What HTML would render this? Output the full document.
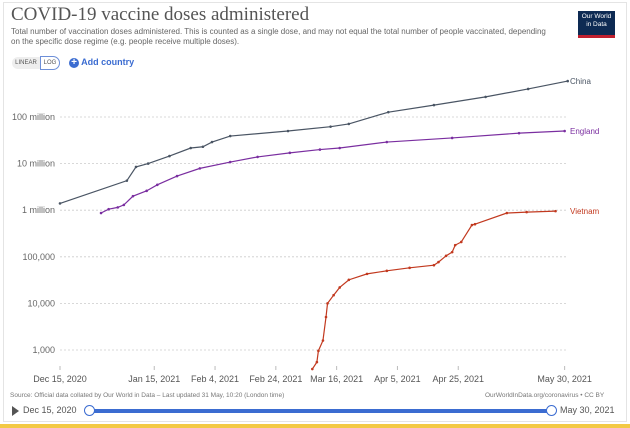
<!DOCTYPE html>
<html><head><meta charset="utf-8"><style>
body{margin:0;width:630px;height:428px;background:#fff;font-family:"Liberation Sans",sans-serif;overflow:hidden;position:relative}
.t{position:absolute;white-space:nowrap}
</style></head><body>
<div style="position:absolute;left:3px;top:2px;width:622px;height:418px;border:1px solid #e4e4e4"></div>
<div class="t" style="left:11px;top:4px;font-family:'Liberation Serif',serif;font-size:19px;color:#555">COVID-19 vaccine doses administered</div>
<div class="t" style="left:11px;top:27px;font-size:8px;line-height:10px;color:#666;white-space:normal;width:540px">Total number of vaccination doses administered. This is counted as a single dose, and may not equal the total number of people vaccinated, depending on the specific dose regime (e.g. people receive multiple doses).</div>
<div style="position:absolute;left:578px;top:11px;width:37px;height:22px;background:#0d2a53;border-bottom:3px solid #c0202f;color:#fff;font-size:6.5px;line-height:8px;text-align:center;padding-top:2px">Our World<br>in Data</div>
<div class="t" style="left:12px;top:57px;width:28px;height:12px;border-radius:7px 0 0 7px;background:#eee;font-size:6px;color:#555;text-align:center;line-height:12px">LINEAR</div>
<div class="t" style="left:40px;top:56px;width:18px;height:12px;border:1px solid #6d8fd8;border-radius:0 7px 7px 0;font-size:6px;color:#555;text-align:center;line-height:12px">LOG</div>
<div class="t" style="left:69px;top:57px;font-size:9px;color:#3b6cd1;font-weight:bold"><span style="display:inline-block;width:10px;height:10px;border-radius:50%;background:#3b6cd1;color:#fff;text-align:center;line-height:10px;font-size:10px">+</span> Add country</div>
<svg id="ch" width="630" height="428" style="position:absolute;left:0;top:0"></svg>
<div class="t" style="left:10px;top:392px;font-size:6.5px;color:#777">Source: Official data collated by Our World in Data – Last updated 31 May, 10:20 (London time)</div>
<div class="t" style="left:485px;top:392px;font-size:6.5px;color:#777">OurWorldInData.org/coronavirus • CC BY</div>
<div style="position:absolute;left:12px;top:406px;width:0;height:0;border-left:7px solid #555;border-top:5px solid transparent;border-bottom:5px solid transparent"></div>
<div class="t" style="left:23px;top:405px;font-size:9px;color:#555">Dec 15, 2020</div>
<div style="position:absolute;left:90px;top:409px;width:462px;height:4px;background:#3b6cd1"></div>
<div style="position:absolute;left:84px;top:405px;width:9px;height:9px;border:1px solid #3b6cd1;border-radius:50%;background:#fff"></div>
<div style="position:absolute;left:546px;top:405px;width:9px;height:9px;border:1px solid #3b6cd1;border-radius:50%;background:#fff"></div>
<div class="t" style="left:560px;top:405px;font-size:9px;color:#555">May 30, 2021</div>
<div style="position:absolute;left:0;top:424px;width:630px;height:4px;background:#f3c944"></div>
<script>
const yTicks=[8,7,6,5,4,3];
const yTickLabels=["100 million","10 million","1 million","100,000","10,000","1,000"];
const xTickDays=[0,31,51,71,91,111,131,166];
const xTickLabels=["Dec 15, 2020","Jan 15, 2021","Feb 4, 2021","Feb 24, 2021","Mar 16, 2021","Apr 5, 2021","Apr 25, 2021","May 30, 2021"];
const chinaDays=[0,22,25,29,36,43,47,50,56,75,89,95,108,123,140,154,167];
const chinaVals=[1.4e6,4.3e6,8.5e6,1e7,1.45e7,2.16e7,2.3e7,2.9e7,3.9e7,5e7,6.2e7,7.1e7,1.27e8,1.8e8,2.7e8,4e8,5.9e8];
const englandDays=[13.5,16,19,21,24,28.5,32,38.5,46,56,65,75.6,85.5,92,107.5,129,151,166];
const englandVals=[8.7e5,1.05e6,1.15e6,1.3e6,2e6,2.6e6,3.5e6,5.4e6,7.9e6,1.08e7,1.39e7,1.7e7,2e7,2.16e7,2.9e7,3.55e7,4.5e7,5e7];
const vietDays=[83,84.5,85,86.5,87.5,88,90,92,95,101,107.5,115,123,124.5,127,129,130,132,135.5,136.5,147,153.5,163];
const vietVals=[390,550,960,1600,5100,1e4,1.5e4,2.2e4,3.2e4,4.3e4,5e4,5.8e4,6.6e4,7.7e4,1.05e5,1.26e5,1.78e5,2.08e5,4.8e5,5e5,8.7e5,9.1e5,9.55e5];
const svg=document.getElementById('ch');const NS='http://www.w3.org/2000/svg';
const X=d=>60+d*3.04, Y=v=>117-(Math.log10(v)-8)*46.6;
function mk(t,a){const e=document.createElementNS(NS,t);for(const k in a)e.setAttribute(k,a[k]);svg.appendChild(e);return e;}
yTicks.forEach((p,i)=>{const y=Y(Math.pow(10,p));
 const g=mk('line',{x1:60,x2:566,y1:y,y2:y,stroke:'#ccc','stroke-dasharray':'2,2','stroke-width':0.8});
 
 const t=mk('text',{x:55,y:y+3,'text-anchor':'end','font-size':9,fill:'#666','font-family':'Liberation Sans'});t.textContent=yTickLabels[i];
 });
xTickDays.forEach((d,i)=>{const x=X(d);
 const tk=mk('line',{x1:x,x2:x,y1:366,y2:370,stroke:'#bbb'});
 
 const t=mk('text',{x:x,y:382,'text-anchor':'middle','font-size':9,fill:'#555','font-family':'Liberation Sans'});t.textContent=xTickLabels[i];
 });
function series(days,vals,col,name,label){
 const pts=days.map((d,i)=>X(d)+','+Y(vals[i])).join(' ');
 const l=mk('polyline',{points:pts,fill:'none',stroke:col,'stroke-width':1.2});
 
 days.forEach((d,i)=>{const c=mk('circle',{cx:X(d),cy:Y(vals[i]),r:1.3,fill:col});
  });
 const n=vals.length-1;
 const t=mk('text',{x:570,y:Y(vals[n])+3,'font-size':8,fill:col,'font-family':'Liberation Sans'});t.textContent=label;
 }
series(chinaDays,chinaVals,'#4a5564','china','China');
series(englandDays,englandVals,'#7a2ea0','england','England');
series(vietDays,vietVals,'#c2391f','vietnam','Vietnam');
</script>
</body></html>
